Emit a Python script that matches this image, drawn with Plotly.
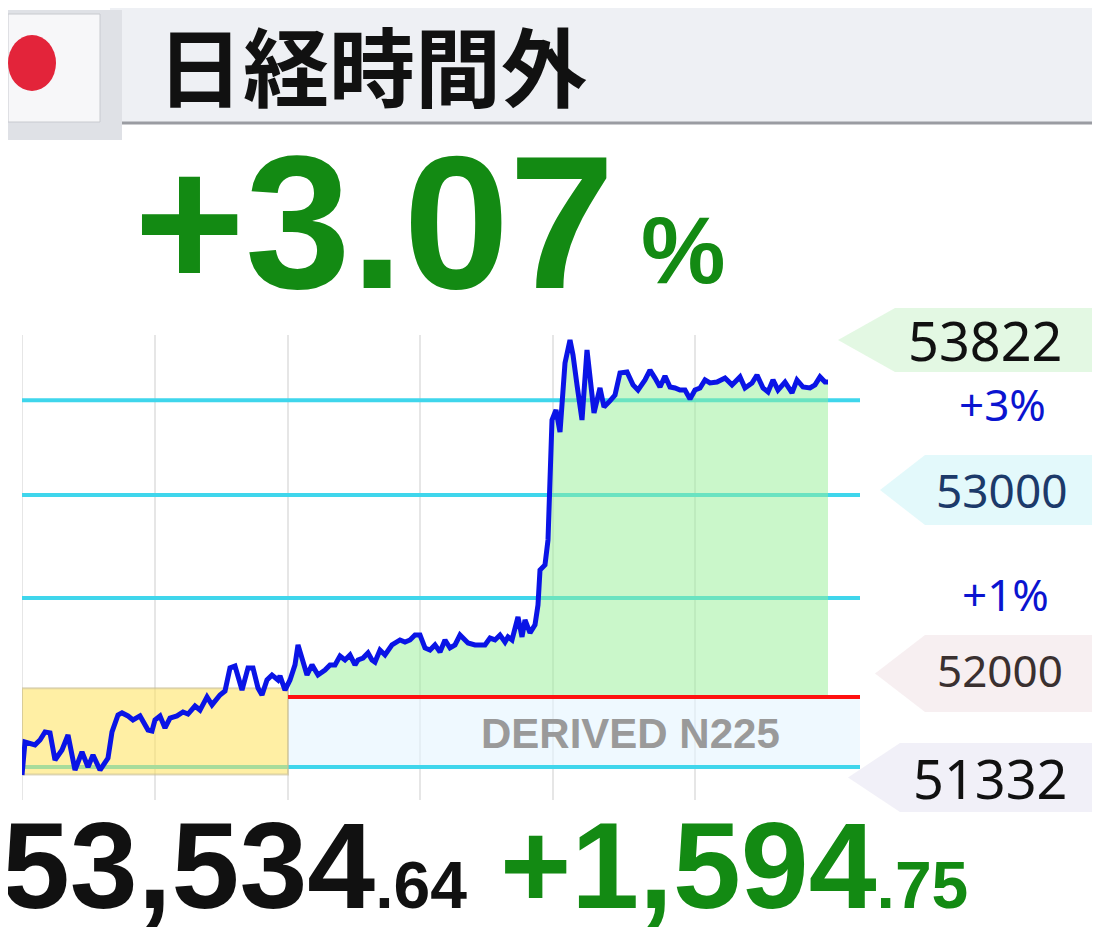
import plotly.graph_objects as go

W, H = 1100, 932
# time index (plot units) and index values
t = [22,25,35,40,45,50,55,62,68,75,82,88,93,100,108,112,118,122,128,133,140,148,152,155,160,165,170,177,183,188,195,200,207,212,220,225,230,235,242,248,253,258,262,267,272,278,280,285,290,295,298,303,307,312,318,325,330,335,340,345,350,355,358,363,368,372,375,380,385,392,400,405,410,415,420,425,430,435,440,445,450,455,460,468,475,485,490,495,500,505,508,512,518,522,525,530,535,538,540,545,548,552,556,560,565,570,573,577,582,587,590,594,600,604,610,615,620,627,633,638,645,650,655,660,665,670,675,680,685,690,695,700,705,710,717,725,732,740,745,752,757,763,768,773,778,785,792,797,803,810,815,820,825,828]
v = [51530,51703,51688,51714,51756,51751,51609,51661,51740,51556,51651,51572,51635,51556,51619,51756,51845,51856,51840,51819,51840,51766,51761,51819,51840,51777,51829,51840,51861,51850,51892,51871,51940,51898,51950,51971,52092,52102,51976,52092,52092,51987,51950,52029,52055,52029,52050,51976,52029,52108,52213,52134,52055,52108,52055,52081,52108,52108,52155,52134,52160,52108,52134,52144,52171,52134,52123,52186,52160,52213,52239,52228,52239,52265,52265,52197,52186,52213,52176,52239,52197,52213,52265,52223,52213,52213,52249,52239,52265,52228,52255,52239,52360,52255,52344,52276,52318,52423,52606,52633,52764,53394,53446,53331,53693,53814,53735,53578,53394,53761,53604,53431,53562,53462,53494,53525,53641,53646,53578,53551,53604,53656,53614,53567,53625,53567,53562,53551,53551,53504,53551,53562,53604,53588,53593,53614,53578,53620,53562,53588,53630,53562,53541,53604,53551,53593,53536,53604,53567,53562,53578,53620,53593,53593]

prev_close = 51939.89
level_lines = [53498, 53000, 52459, 51572]
grid_t = [22, 155, 288, 420, 553, 695]
session_split = 288

Y0, Y1 = 51398.75, 53918.75
OFF = 8  # page body margin

def px(x): return (x - OFF) / W
def py(y): return 1 - (y - OFF) / H

fig = go.Figure()
tf = [a for a in t if a >= session_split]
vf = [b for a, b in zip(t, v) if a >= session_split]
fig.add_trace(go.Scatter(x=tf, y=[prev_close]*len(tf), mode="lines", line=dict(width=0), hoverinfo="skip"))
fig.add_trace(go.Scatter(x=tf, y=vf, mode="lines", line=dict(width=0), fill="tonexty",
                         fillcolor="rgba(150,240,150,0.5)", hoverinfo="skip"))
fig.add_trace(go.Scatter(x=t, y=v, mode="lines", line=dict(color="#0a14e6", width=5), hoverinfo="skip"))

shapes = []
shapes.append(dict(type="rect", xref="paper", yref="paper", x0=px(110), x1=1, y0=py(122), y1=1,
                   fillcolor="#eef0f4", line=dict(width=0), layer="below"))
shapes.append(dict(type="line", xref="paper", yref="paper", x0=px(110), x1=1, y0=py(123), y1=py(123),
                   line=dict(color="#9a9ca2", width=3)))
shapes.append(dict(type="rect", xref="paper", yref="paper", x0=0, x1=px(122), y0=py(140), y1=py(10),
                   fillcolor="#dfe1e6", line=dict(width=0)))
shapes.append(dict(type="rect", xref="paper", yref="paper", x0=0, x1=px(100), y0=py(122), y1=py(14),
                   fillcolor="#f7f7f9", line=dict(color="#c8cacf", width=1)))
shapes.append(dict(type="circle", xref="paper", yref="paper", x0=0, x1=px(56), y0=py(91), y1=py(35),
                   fillcolor="#e3243a", line=dict(width=0)))
for g in grid_t:
    shapes.append(dict(type="line", x0=g, x1=g, yref="paper", y0=py(800), y1=py(335),
                       line=dict(color="#e6e6e6", width=2), layer="below"))
shapes.append(dict(type="rect", x0=session_split, x1=860, y0=level_lines[3], y1=prev_close,
                   fillcolor="rgba(228,245,255,0.6)", line=dict(width=0), layer="below"))
for lv in level_lines:
    shapes.append(dict(type="line", x0=22, x1=860, y0=lv, y1=lv, line=dict(color="#3fd6ec", width=4), layer="below"))
shapes.append(dict(type="rect", x0=22, x1=session_split, y0=level_lines[3]-40, y1=prev_close+45,
                   fillcolor="rgba(255,225,90,0.55)", line=dict(color="rgba(200,190,150,0.6)", width=2), layer="below"))
shapes.append(dict(type="line", x0=session_split, x1=1120, y0=prev_close, y1=prev_close,
                   line=dict(color="#ff1010", width=4)))

def tab(x_tip, x_body, ytop, ybot, color):
    ym = (ytop + ybot) / 2
    return dict(type="path", xref="paper", yref="paper",
                path=f"M {px(x_tip)} {py(ym)} L {px(x_body)} {py(ytop)} L 1 {py(ytop)} L 1 {py(ybot)} L {px(x_body)} {py(ybot)} Z",
                fillcolor=color, line=dict(width=0), layer="below")
shapes.append(tab(838, 895, 308, 372, "rgba(215,245,215,0.7)"))
shapes.append(tab(880, 925, 455, 525, "rgba(220,248,250,0.8)"))
shapes.append(tab(875, 925, 635, 712, "rgba(245,235,238,0.8)"))
shapes.append(tab(848, 900, 743, 812, "rgba(238,236,246,0.8)"))

F = "Noto Sans"
def ann(x, y, text, size, color, xanchor="center", family=F):
    return dict(x=px(x), y=py(y), xref="paper", yref="paper", text=text, showarrow=False,
                xanchor=xanchor, yanchor="middle", font=dict(size=size, color=color, family=family))

anns = [
    ann(155, 64, "<b>日経時間外</b>", 86, "#111", "left", "Noto Sans CJK JP"),
    ann(132, 222, "<b>+3.07</b>", 190, "#138a13", "left", "Liberation Sans"),
    ann(683, 250, "<b>%</b>", 95, "#138a13", "center", "Liberation Sans"),
    ann(985, 340, "53822", 54, "#111"),
    ann(1002, 404, "+3%", 44, "#0a14d0"),
    ann(1002, 490, "53000", 46, "#1c3a6a"),
    ann(1005, 594, "+1%", 44, "#0a14d0"),
    ann(1000, 670, "52000", 44, "#3a3030"),
    ann(990, 778, "51332", 54, "#111"),
    ann(630, 733, "<b>DERIVED N225</b>", 42, "#9a9a9a", "center", "Liberation Sans"),
    ann(0, 866, "<b>53,534<span style='font-size:66px'>.64</span></b>", 122, "#111", "left", "Liberation Sans"),
    ann(498, 866, "<b>+1,594<span style='font-size:66px'>.75</span></b>", 122, "#138a13", "left", "Liberation Sans"),
]

fig.update_layout(width=W, height=H, margin=dict(l=0, r=0, t=0, b=0), showlegend=False,
                  plot_bgcolor="white", paper_bgcolor="white", shapes=shapes, annotations=anns,
                  xaxis=dict(domain=[px(22), px(860)], range=[22, 860], visible=False),
                  yaxis=dict(domain=[py(800), py(320)], range=[Y0, Y1], visible=False))
fig.write_html("out.html")
